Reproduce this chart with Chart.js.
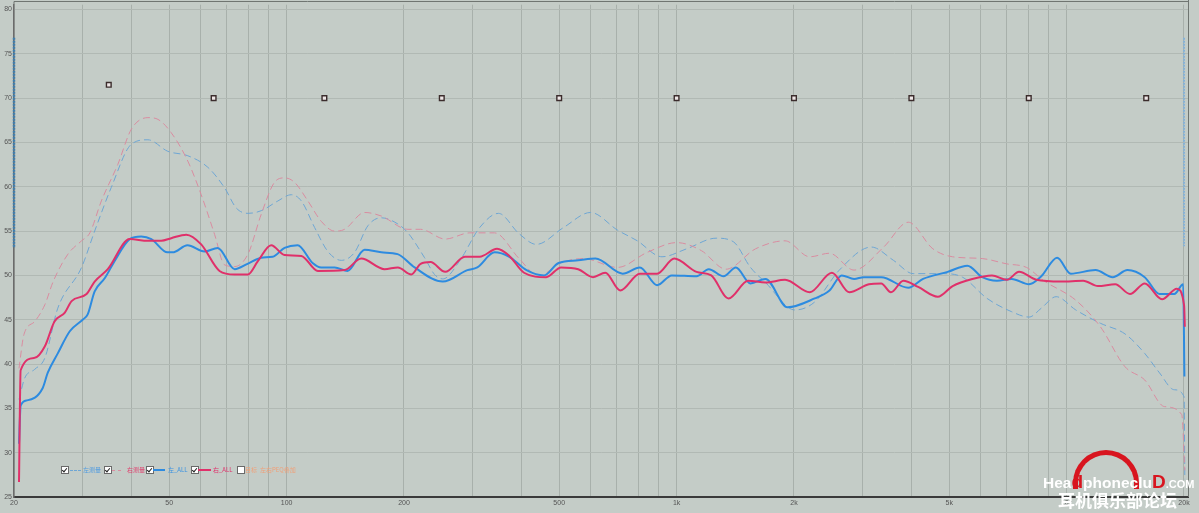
<!DOCTYPE html>
<html><head><meta charset="utf-8">
<script src="https://cdn.jsdelivr.net/npm/chart.js@4.4.1/dist/chart.umd.min.js"></script>
<style>
html,body{margin:0;padding:0;background:#c4ccc7;overflow:hidden;}
#wrap{position:relative;width:1199px;height:513px;}
#wrap canvas{position:absolute;left:0;top:0;}
.lg{position:absolute;font:6px "Noto Sans CJK SC","Liberation Sans",sans-serif;line-height:8px;white-space:nowrap;}
.cb{position:absolute;width:6px;height:6px;background:#fff;border:1px solid #6a6a6a;}
.cb.on::after{content:"";position:absolute;left:1px;top:0px;width:2px;height:4px;border-right:1px solid #222;border-bottom:1px solid #222;transform:rotate(40deg);}
.ln{position:absolute;height:0;}
#wm{position:absolute;left:1040px;top:440px;width:159px;height:73px;}
#wm .arc{position:absolute;left:33px;top:10px;width:56px;height:34px;border:5px solid #d8151f;border-bottom:none;border-radius:34px 34px 0 0;}
#wm .l1{position:absolute;left:3px;top:31px;font:bold 15.5px "Liberation Sans",sans-serif;color:#fff;}
#wm .l1 .r{color:#d8151f;font-size:19px;font-weight:900;}
#wm .l1 .c{font-size:11px;}
#wm .l2{position:absolute;left:18px;top:50px;font:bold 17px "Noto Sans CJK SC",sans-serif;color:#fff;line-height:20px;}
</style></head>
<body>
<div id="wrap">
<canvas id="c"></canvas>
<div class="cb on" style="left:61px;top:466px"></div>
<div class="ln" style="left:70px;top:470px;width:11px;border-top:1px dashed #6ea6d4"></div>
<div class="lg" style="left:83px;top:466px;color:#4e9ae0">左测量</div>
<div class="cb on" style="left:104px;top:466px"></div>
<div class="ln" style="left:112px;top:470px;width:9px;border-top:1px dashed #d98ca0"></div>
<div class="lg" style="left:127px;top:466px;color:#e0406e">右测量</div>
<div class="cb on" style="left:146px;top:466px"></div>
<div class="ln" style="left:153px;top:469px;width:12px;border-top:2px solid #2d8be0"></div>
<div class="lg" style="left:168px;top:466px;color:#3a92e2">左_ALL</div>
<div class="cb on" style="left:191px;top:466px"></div>
<div class="ln" style="left:198px;top:469px;width:13px;border-top:2px solid #e0306a"></div>
<div class="lg" style="left:213px;top:466px;color:#e0306a">右_ALL</div>
<div class="cb" style="left:237px;top:466px"></div>
<div class="lg" style="left:245px;top:466px;color:#f0a078">目标</div>
<div class="lg" style="left:260px;top:466px;color:#f0a078">左右PEQ叠加</div>
<div id="wm">
  <div class="arc"></div>
  <div class="l1">Hea<span class="r">d</span>phoneclu<span class="r">D</span><span class="c">.COM</span></div>
  <div class="l2">耳机俱乐部论坛</div>
</div>
</div>
<script>
// ---- data (frequency in Hz, level in dB) ----
const blueSolidFreq = [20.6,20.8,21.6,23.7,24.4,25.9,27.8,30.0,30.9,32.2,34.2,36.2,39.6,42.4,45.0,49.5,51.0,55.7,61.6,66.6,73.6,79.4,86.1,92.1,98.8,106.7,116.6,122.7,132.8,143.3,158.5,174.9,192.6,212.9,251.5,290.8,308.3,341.4,372.5,412.3,456.6,498.1,559.5,619.6,727.2,804.9,891.3,971.9,1125,1209,1320,1419,1547,1690,1925,2260,2466,2652,2852,3021,3347,3927,4285,4956,5568,6077,6631,7233,8011,8613,9456,10252,11863,13132,14327,15863,17312,18892,19910,20050];
const blueSolidDb = [31.0,35.3,35.9,37.3,39.0,41.2,43.7,45.0,45.6,48.2,49.7,51.6,54.1,54.4,54.1,52.6,52.6,53.4,52.7,53.1,50.7,51.3,52.0,52.1,53.1,53.4,51.4,50.9,50.9,50.5,52.9,52.6,52.4,50.9,49.3,50.6,50.9,52.6,52.1,50.6,50.0,51.4,51.7,51.9,50.2,50.9,48.9,50.0,49.9,50.7,49.9,50.9,49.1,49.6,46.4,47.4,48.3,50.0,49.6,49.8,49.8,48.6,49.6,50.4,51.1,49.8,49.4,49.6,49.0,49.9,52.0,50.2,50.6,49.8,50.6,49.8,47.9,47.9,49.0,38.6];

const pinkSolidFreq = [20.6,20.8,22.6,24.0,25.4,27.0,28.1,30.7,32.2,34.8,39.6,44.1,47.7,50.6,55.3,60.4,67.3,73.6,79.6,84.4,91.3,98.8,109.1,120.3,140.8,155.4,178.3,192.9,208.8,220.6,233.9,255.1,286.6,312.7,346.4,372.5,406.3,463.1,505.5,559.5,610.6,656.5,716.6,804.9,891.3,986.5,1125,1227,1359,1526,1690,1897,2195,2502,2771,3112,3347,3546,3815,4162,4674,5103,5732,6438,7026,7553,8368,9675,11031,12033,13327,14540,15863,17570,19173,20016,20100];
const pinkSolidDb = [26.7,39.3,40.7,42.0,44.8,45.8,47.1,47.9,49.3,50.7,54.1,53.9,53.9,54.2,54.6,53.5,50.5,50.1,50.1,51.6,53.4,52.3,52.2,50.5,50.6,51.9,50.7,50.9,50.1,51.3,51.5,50.4,52.1,52.1,53.0,52.2,50.3,49.8,50.9,50.7,49.8,50.3,48.3,50.2,50.2,51.9,50.4,50.0,47.4,49.4,49.2,49.5,48.1,50.3,48.1,49.0,49.1,48.1,49.4,48.7,47.6,48.8,49.6,50.0,49.5,50.4,49.5,49.3,49.4,48.8,49.0,47.9,49.1,47.3,48.5,46.6,44.2];

const blueDashFreq = [20.6,21.3,22.6,24.0,25.9,29.8,32.2,35.5,40.0,44.1,49.6,55.8,62.8,69.3,74.3,79.6,86.1,95.0,102.8,109.1,118.0,127.6,138.1,149.4,161.6,174.9,192.9,204.7,225.8,239.6,251.5,278.4,312.7,349.3,394.7,437.1,513.0,601.6,706.1,793.2,917.5,1061,1263,1398,1547,1690,2012,2260,2614,3157,3598,4043,4815,5409,6254,7233,8011,8613,9400,10559,12212,14117,15863,17312,18892,20016,20100];
const blueDashDb = [36.0,38.4,39.4,40.7,46.3,50.9,55.0,59.9,64.8,65.3,64.0,63.5,62.2,59.9,57.6,57.0,57.3,58.4,59.1,58.4,55.4,52.7,51.7,52.6,55.6,56.5,55.8,54.8,52.0,50.1,49.6,51.7,55.4,57.0,54.7,53.5,55.4,57.1,55.1,53.9,52.1,53.0,54.2,53.8,50.9,49.2,46.1,47.0,50.6,53.2,51.7,50.2,50.2,49.8,47.4,45.9,45.3,46.3,47.6,46.1,44.6,43.4,41.2,39.0,37.1,36.3,27.0];

const pinkDashFreq = [20.6,21.2,22.6,24.0,25.2,27.5,29.8,31.3,33.5,36.9,40.0,44.1,46.8,50.6,55.8,60.4,65.4,69.3,73.6,79.6,86.1,93.1,98.8,104.8,113.4,122.7,132.8,140.8,158.5,174.9,204.7,220.6,255.1,295.1,341.4,394.7,443.4,498.1,576.3,706.1,840.9,1001,1157,1339,1594,1897,2195,2466,2852,3397,3927,4541,5103,6077,7026,7893,8741,10559,12212,14117,15863,17818,19737,20100];
const pinkDashDb = [39.5,43.3,44.8,46.7,49.3,52.4,53.9,54.8,58.4,62.5,66.5,67.8,67.6,66.1,62.9,59.1,54.6,51.2,51.0,52.4,56.9,60.5,61.0,60.5,58.4,56.1,55.0,55.2,57.1,56.7,55.2,55.2,54.1,54.8,54.8,51.9,49.9,51.3,51.9,50.9,52.6,53.7,52.8,50.7,53.0,53.9,52.1,52.5,50.6,53.2,56.0,53.0,52.1,51.9,51.3,50.9,49.4,47.2,44.2,39.7,38.2,35.2,34.3,28.0];

// PEQ nodes
const peqFreq = [35,65,125,250,500,1000,2000,4000,8000,16000];
const peqDb = [71.5,70,70,70,70,70,70,70,70,70];

// cursor markers
const cursorLeftFreq = [20,20];
const cursorLeftDb = [76.8,53.1];
const cursorRightFreq = [20000,20000];
const cursorRightDb = [76.8,53.3];

// axes
const xGridValues = [20,30,40,50,60,70,80,90,100,200,300,400,500,600,700,800,900,1000,2000,3000,4000,5000,6000,7000,8000,9000,10000,20000];
const xLabelValues = [20,50,100,200,500,1000,2000,5000,10000,20000];
const xLabelTexts = ['20','50','100','200','500','1k','2k','5k','10k','20k'];
const yTickValues = [25,30,35,40,45,50,55,60,65,70,75,80];

function pts(f, d){ const n = Math.min(f.length, d.length); const o=[]; for(let i=0;i<n;i++) o.push({x:f[i], y:d[i]}); return o; }

const frame = {
  id:'frame',
  beforeDatasetsDraw(c){
    const {ctx, chartArea:a} = c;
    ctx.save();
    ctx.strokeStyle='#6f7571'; ctx.lineWidth=1;
    ctx.beginPath();
    ctx.moveTo(a.right+0.5, 0); ctx.lineTo(a.right+0.5, a.bottom);
    ctx.moveTo(a.left, 1.5); ctx.lineTo(a.right, 1.5);
    ctx.moveTo(a.left, 1.5); ctx.lineTo(a.left, a.top);
    ctx.stroke();
    ctx.restore();
  }
};

new Chart(document.getElementById('c'), {
  type:'line',
  data:{ datasets:[
    {label:'PEQ', data:pts(peqFreq,peqDb), showLine:false, pointStyle:'rect', pointRadius:3.3, pointHoverRadius:3.3,
      backgroundColor:'#efe7e7', borderColor:'#3b2c2c', pointBorderWidth:1.4, order:0},
    {label:'右_ALL', data:pts(pinkSolidFreq,pinkSolidDb), borderColor:'#e0306a', borderWidth:2, pointRadius:0, cubicInterpolationMode:'monotone', order:1},
    {label:'左_ALL', data:pts(blueSolidFreq,blueSolidDb), borderColor:'#2d8be0', borderWidth:2, pointRadius:0, cubicInterpolationMode:'monotone', order:2},
    {label:'右测量', data:pts(pinkDashFreq,pinkDashDb), borderColor:'#d98ca0', borderWidth:1, borderDash:[7,4], pointRadius:0, cubicInterpolationMode:'monotone', order:3},
    {label:'左测量', data:pts(blueDashFreq,blueDashDb), borderColor:'#6ea6d4', borderWidth:1, borderDash:[7,4], pointRadius:0, cubicInterpolationMode:'monotone', order:4},
    {label:'cursorL', data:pts(cursorLeftFreq,cursorLeftDb), borderColor:'#3f7fb0', borderWidth:2.5, borderDash:[2,1], pointRadius:0, clip:false, order:5},
    {label:'cursorR', data:pts(cursorRightFreq,cursorRightDb), borderColor:'#85b2d8', borderWidth:2, borderDash:[2,1], pointRadius:0, clip:false, order:5}
  ]},
  options:{
    responsive:true, maintainAspectRatio:false, animation:false,
    layout:{padding:{left:0, top:1, right:11, bottom:0}},
    plugins:{legend:{display:false}, tooltip:{enabled:false}},
    events:[],
    scales:{
      x:{type:'logarithmic', min:20, max:20480,
        afterBuildTicks:s=>{ s.ticks = xGridValues.map(v=>({value:v})); },
        afterFit:s=>{ s.height=16; s.paddingLeft=0; s.paddingRight=0; },
        ticks:{autoSkip:false, maxRotation:0, minRotation:0, padding:2, color:'#555',
          font:{size:7, family:'Liberation Sans'},
          callback:(v)=>{ const i = xLabelValues.indexOf(v); return i>=0 ? xLabelTexts[i] : ''; }},
        grid:{color:'#a8b0ab', lineWidth:1, drawTicks:false},
        border:{display:true, color:'#3a3a3a', width:2}
      },
      y:{type:'linear', min:25, max:80.54,
        afterBuildTicks:s=>{ s.ticks = yTickValues.map(v=>({value:v})); },
        afterFit:s=>{ s.width=14; s.paddingTop=0; s.paddingBottom=0; },
        ticks:{padding:2, color:'#555', font:{size:7, family:'Liberation Sans'}, callback:v=>String(v)},
        grid:{color:'#b1b9b4', lineWidth:1, drawTicks:false},
        border:{display:true, color:'#6b6b6b', width:1.5}
      }
    }
  },
  plugins:[frame]
});
</script>
</body></html>
